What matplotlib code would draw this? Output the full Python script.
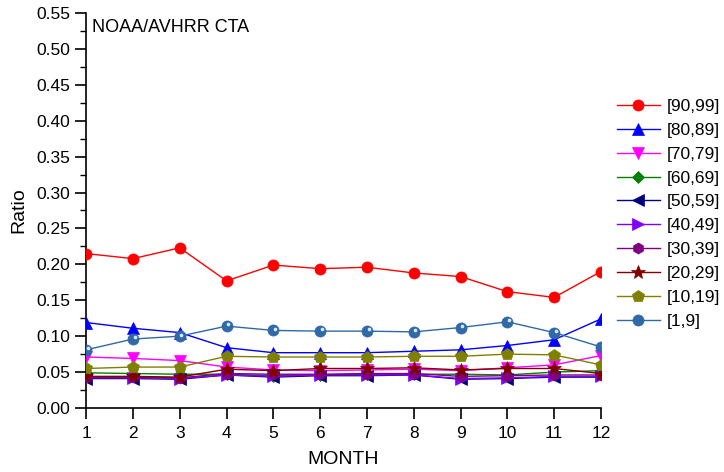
import matplotlib
matplotlib.use("Agg")
import matplotlib.pyplot as plt
import matplotlib.transforms as mtransforms
from matplotlib.ticker import MultipleLocator

plt.rcParams['font.family'] = ['Liberation Sans', 'DejaVu Sans']

months = list(range(1, 13))

r90_99 = [0.215, 0.208, 0.223, 0.177, 0.199, 0.194, 0.196, 0.188, 0.183, 0.162, 0.154, 0.190]
r80_89 = [0.119, 0.111, 0.105, 0.084, 0.077, 0.077, 0.077, 0.079, 0.081, 0.087, 0.095, 0.124]
r70_79 = [0.071, 0.069, 0.066, 0.057, 0.053, 0.052, 0.053, 0.054, 0.052, 0.056, 0.060, 0.073]
r60_69 = [0.049, 0.048, 0.047, 0.047, 0.045, 0.046, 0.047, 0.047, 0.047, 0.046, 0.050, 0.052]
r50_59 = [0.041, 0.041, 0.040, 0.046, 0.043, 0.045, 0.045, 0.046, 0.040, 0.041, 0.043, 0.043]
r40_49 = [0.042, 0.042, 0.041, 0.046, 0.044, 0.046, 0.046, 0.046, 0.041, 0.042, 0.044, 0.044]
r30_39 = [0.043, 0.043, 0.042, 0.048, 0.047, 0.047, 0.048, 0.048, 0.044, 0.045, 0.046, 0.046]
r20_29 = [0.044, 0.044, 0.043, 0.054, 0.052, 0.055, 0.055, 0.056, 0.053, 0.055, 0.055, 0.048]
r10_19 = [0.055, 0.057, 0.057, 0.072, 0.071, 0.071, 0.071, 0.072, 0.072, 0.075, 0.074, 0.060]
r1_9 = [0.081, 0.096, 0.100, 0.114, 0.108, 0.107, 0.107, 0.106, 0.112, 0.120, 0.105, 0.085]

# label, values, color, marker, size
series = [
    ("[90,99]", r90_99, "#ff0000", "o", 8),
    ("[80,89]", r80_89, "#0000ff", "^", 8.5),
    ("[70,79]", r70_79, "#ff00ff", "v", 8.5),
    ("[60,69]", r60_69, "#008000", "D", 6.5),
    ("[50,59]", r50_59, "#000080", "<", 8.5),
    ("[40,49]", r40_49, "#8000ff", ">", 8.5),
    ("[30,39]", r30_39, "#800080", "h", 8),
    ("[20,29]", r20_29, "#800000", "*", 10),
    ("[10,19]", r10_19, "#808000", "p", 9),
    ("[1,9]", r1_9, "#2f69a8", "o", 8),
]

fig = plt.figure(figsize=(7.24, 4.72), dpi=100)
ax = fig.add_axes([0.119, 0.1356, 0.711, 0.8369])

handles = []
for label, vals, color, marker, ms in series:
    h, = ax.plot(months, vals, color=color, lw=1.0, marker=marker, markersize=ms,
                 markerfacecolor=color, markeredgecolor=color, markeredgewidth=0.5,
                 label=label, zorder=3)
    handles.append(h)

# shiny highlight on the [1,9] balls
shine = mtransforms.offset_copy(ax.transData, fig=fig, x=1.2, y=1.2, units='points')
ax.plot(months, r1_9, ls='none', marker='o', markersize=2.6, color='#dce8f5',
        markeredgewidth=0, transform=shine, zorder=4)

ax.set_xlim(1, 12)
ax.set_ylim(0, 0.55)
ax.xaxis.set_major_locator(MultipleLocator(1))
ax.yaxis.set_major_locator(MultipleLocator(0.05))
ax.yaxis.set_minor_locator(MultipleLocator(0.025))
ax.yaxis.set_major_formatter(matplotlib.ticker.FormatStrFormatter('%.2f'))

for side in ('top', 'right'):
    ax.spines[side].set_visible(False)
for side in ('left', 'bottom'):
    ax.spines[side].set_linewidth(1.2)

ax.tick_params(axis='both', which='major', direction='out', length=8, width=1.2, labelsize=12.5)
ax.tick_params(axis='y', which='minor', direction='out', length=4, width=1.0)
ax.tick_params(axis='x', pad=5)

fig.text(0.474, 0.026, "MONTH", fontsize=14, ha='center', va='center')
ax.set_ylabel("Ratio", fontsize=14, labelpad=6)
ax.text(0.012, 0.985, "NOAA/AVHRR CTA", transform=ax.transAxes, fontsize=13,
        ha='left', va='top')

fig.legend(handles=handles, loc='upper left', bbox_to_anchor=(0.842, 0.805),
           frameon=False, fontsize=12.5, handlelength=2.5, handletextpad=0.4,
           labelspacing=0.5, borderaxespad=0)

fig.savefig("out.png", dpi=100)
